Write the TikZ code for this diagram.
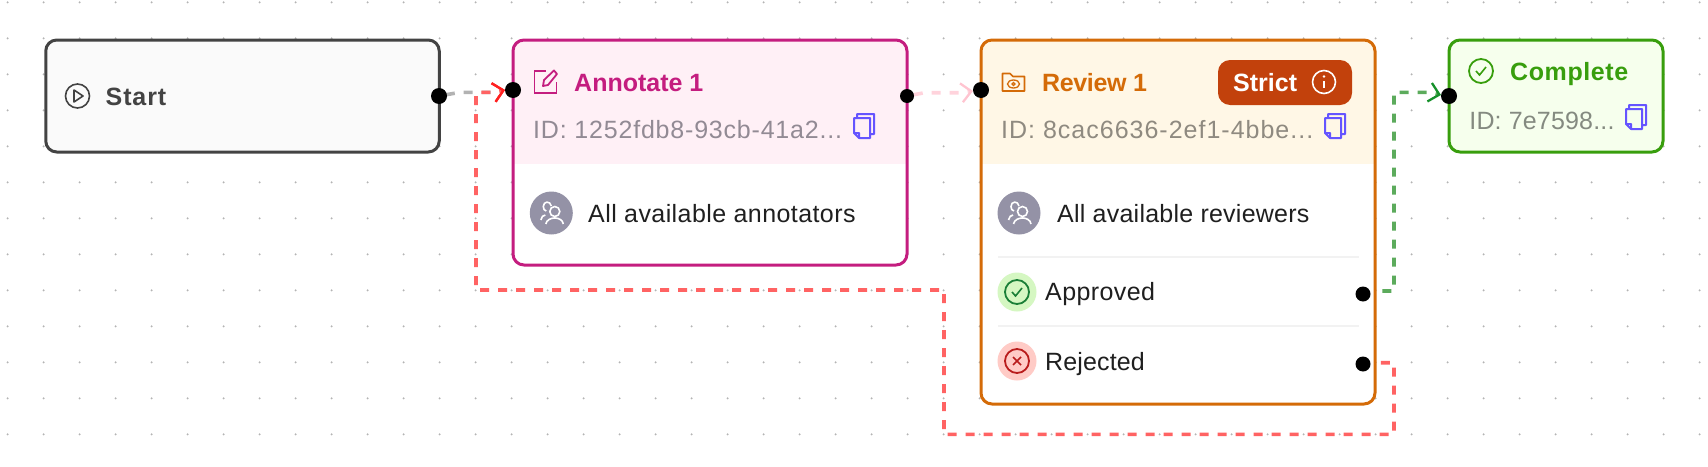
\documentclass[tikz,border=0pt]{standalone}
\usepackage{fontspec}
\setmainfont{Liberation Sans}
\usetikzlibrary{arrows.meta,backgrounds}
\newcommand{\track}[2]{{\addfontfeature{LetterSpace=#1}#2}}
\definecolor{griddot}{HTML}{B4B4B4}
\definecolor{startline}{HTML}{434343}
\definecolor{startfill}{HTML}{FAFAFA}
\definecolor{annotateline}{HTML}{C41D7F}
\definecolor{annotatefill}{HTML}{FFF0F6}
\definecolor{annotateid}{HTML}{928A94}
\definecolor{reviewline}{HTML}{D46B08}
\definecolor{reviewfill}{HTML}{FFF7E6}
\definecolor{reviewid}{HTML}{8F8A80}
\definecolor{strictfill}{HTML}{C2410C}
\definecolor{completeline}{HTML}{389E0D}
\definecolor{completefill}{HTML}{F6FFED}
\definecolor{completeid}{HTML}{848A80}
\definecolor{copyline}{HTML}{6554FF}
\definecolor{avatarfill}{HTML}{9492A6}
\definecolor{bodyink}{HTML}{1F1F1F}
\definecolor{okfill}{HTML}{D5F7C2}
\definecolor{okline}{HTML}{1A7F37}
\definecolor{badfill}{HTML}{FFCBC6}
\definecolor{badline}{HTML}{B91C1C}
\definecolor{rowline}{HTML}{F2F2F2}
\definecolor{edgegrey}{HTML}{B2B2B2}
\definecolor{edgered}{HTML}{FF6363}
\definecolor{tipred}{HTML}{FF2020}
\definecolor{edgepink}{HTML}{FFD3DC}
\definecolor{tippink}{HTML}{FFC4D0}
\definecolor{edgegreen}{HTML}{5CAB5C}
\definecolor{tipgreen}{HTML}{15902A}
\tikzset{
  card/.style={draw=#1, line width=3pt, rounded corners=11pt, inner sep=0pt},
  headcard/.style 2 args={card=#1, fill=white, path picture={
    \fill [#2, sharp corners] (path picture bounding box.north west) rectangle ([yshift=-124pt]path picture bounding box.north east);}},
  port/.style={circle, fill=black, inner sep=0pt, minimum size=#1},
  plaintext/.style={anchor=base west, inner sep=0pt, font=\fontsize{25}{25}\selectfont},
  titletext/.style={plaintext, text=#1, font=\fontsize{25}{25}\selectfont\bfseries},
  idtext/.style={plaintext, text=#1},
  bodytext/.style={plaintext, text=bodyink},
  flowedge/.style={dash pattern=on 9pt off 9pt, line width=3.6pt},
  barb/.style={-{Straight Barb[length=10pt,width=19pt,line width=2.3pt,color=#1]}},
  copyicon/.pic={
    \draw [copyline, line width=2pt, line join=round] (0,4) -- (16,4) -- (16,24) -- (5,24) -- (0,19) -- cycle (0,19) -- (5,19) -- (5,24) (3,4) -- (3,0) -- (20,0) -- (20,20) -- (16,20);},
  peopleicon/.pic={
    \draw [white, line width=1.6pt] (3.5,-1.5) circle (5) (-5.5,11) .. controls (-4,3) and (11,3) .. (12,11) (0,-7) .. controls (-1,-12.5) and (-8,-12) .. (-8,-6.5) .. controls (-8,-4) and (-7,-2.5) .. (-5,-2) (-10.5,7) .. controls (-10,4) and (-8,2) .. (-6,2);},
  checkicon/.pic={
    \draw [line width=1.6pt] (-5,0) -- (-1.5,4) -- (5,-4);},
  crossicon/.pic={
    \draw [line width=1.6pt] (-4,-4) -- (4,4) (-4,4) -- (4,-4);}
}
\begin{document}
\begin{tikzpicture}[x=1pt,y=-1pt]
\useasboundingbox (0,0) rectangle (1708,466);
\node (startcard) [card=startline, fill=startfill, minimum width=393.5, minimum height=112] at (242.5,96) {};
\node (annotatecard) [headcard={annotateline}{annotatefill}, minimum width=394, minimum height=225] at (710,152.5) {};
\node (reviewcard) [headcard={reviewline}{reviewfill}, minimum width=394, minimum height=364] at (1178,222) {};
\node (completecard) [card=completeline, fill=completefill, minimum width=214, minimum height=112] at (1556,96) {};
\draw [rowline, line width=1.5pt] (998,257) -- (1359,257) (998,326) -- (1359,326);

\node (startout) [port=16pt] at (439,96) {};
\node (annotatein) [port=16pt] at (513,90) {};
\node (annotateout) [port=14pt] at (907,96) {};
\node (reviewin) [port=16pt] at (981,90) {};
\node (approvedout) [port=15pt] at (1363,294) {};
\node (rejectedout) [port=15pt] at (1363,364) {};
\node (completein) [port=16pt] at (1449,96) {};

\coordinate (annotatetip) at (505,90);
\coordinate (reviewtip) at (973,91);
\coordinate (completetip) at (1441,95);
\begin{scope}[on background layer]
\foreach \gx in {0,...,47} {
  \foreach \gy in {0,...,12} {
    \fill [griddot] (7.6+36*\gx,2.3+36*\gy) circle (1.1);
  }
}
\draw [flowedge, dash phase=11pt, edgegrey, barb=tipred] (startout.center) -- (456,93) -- (462,92.4) -- (494,92.4) -- (annotatetip);
\draw [flowedge, dash phase=11pt, edgepink, barb=tippink] (annotateout.center) -- (923,93) -- (930,92.7) -- (962,92.7) -- (reviewtip);
\draw [flowedge, dash phase=16pt, edgegreen, barb=tipgreen] (approvedout.center) -- (1370,291) -- (1394,291) -- (1394,92.3) -- (1430,92.3) -- (completetip);
\draw [flowedge, edgered, barb=tipred] (rejectedout.center) -- (1370,362.7) -- (1394,362.7) -- (1394,434.3) -- (944,434.3) -- (944,290) -- (476,290) -- (476,92.4) -- (494,92.4) -- (annotatetip);
\end{scope}

\draw [startline, line width=1.6pt] (77.5,96) circle (12);
\draw [startline, line width=1.6pt, line join=round] (74,90) -- (83,96) -- (74,102) -- cycle;
\node (starttitle) [titletext=startline] at (105.5,105) {\track{3.6}{Start}};

\draw [annotateline, line width=1.8pt] (546,71) -- (534.5,71) -- (534.5,93) -- (556.5,93) -- (556.5,82);
\draw [annotateline, line width=1.8pt, line join=round] (543,86) -- (544,80) -- (554,70.5) -- (557,74) -- (548,85) -- cycle;
\node (annotatetitle) [titletext=annotateline] at (574,91) {Annotate 1};
\node (annotateidtext) [idtext=annotateid] at (533,138.7) {\track{3.2}{ID: 1252fdb8-93cb-41a2...}};
\pic at (854,114) {copyicon};
\node (annotateavatar) [circle, fill=avatarfill, inner sep=0pt, minimum size=43pt] at (551.3,213) {};
\pic at (551.3,213) {peopleicon};
\node (annotatebody) [bodytext] at (588,222.4) {\track{1.7}{All available annotators}};

\draw [reviewline, line width=1.6pt, line join=round] (1002.5,91) -- (1002.5,73.5) -- (1010,73.5) -- (1013,76.5) -- (1024.5,76.5) -- (1024.5,91) -- cycle;
\draw [reviewline, line width=1.3pt] (1013.5,84) ellipse (6 and 4) (1013.5,84) circle (1.5);
\node (reviewtitle) [titletext=reviewline] at (1042,91) {\track{-1.5}{Review 1}};
\node (strictbadge) [fill=strictfill, rounded corners=12pt, inner sep=0pt, minimum width=134, minimum height=45] at (1285,82.5) {};
\node (stricttext) [titletext=white] at (1233,91) {Strict};
\draw [white, line width=1.6pt] (1324,82) circle (11.5);
\fill [white] (1324,76.5) circle (1.4);
\draw [white, line width=1.8pt] (1324,81) -- (1324,88);
\node (reviewidtext) [idtext=reviewid] at (1001,138.7) {\track{4.0}{ID: 8cac6636-2ef1-4bbe...}};
\pic at (1325,114) {copyicon};
\node (reviewavatar) [circle, fill=avatarfill, inner sep=0pt, minimum size=43pt] at (1019,213) {};
\pic at (1019,213) {peopleicon};
\node (reviewbody) [bodytext] at (1057,222.4) {\track{1.0}{All available reviewers}};

\node (approvedbadge) [circle, fill=okfill, inner sep=0pt, minimum size=39pt] at (1017,292) {};
\draw [okline, line width=1.8pt] (1017,292) circle (12);
\pic [okline] at (1017,292) {checkicon};
\node (approvedtext) [bodytext] at (1045,300.7) {\track{1.65}{Approved}};
\node (rejectedbadge) [circle, fill=badfill, inner sep=0pt, minimum size=39pt] at (1017,361) {};
\draw [badline, line width=1.8pt] (1017,361) circle (12);
\pic [badline] at (1017,361) {crossicon};
\node (rejectedtext) [bodytext] at (1045,370.7) {\track{0.6}{Rejected}};

\draw [completeline, line width=1.8pt] (1481,71) circle (12);
\pic [completeline] at (1481,71) {checkicon};
\node (completetitle) [titletext=completeline] at (1510,80) {\track{2.4}{Complete}};
\node (completeidtext) [idtext=completeid] at (1469.2,129.7) {\track{0.7}{ID: 7e7598...}};
\pic at (1626,105) {copyicon};
\end{tikzpicture}
\end{document}
